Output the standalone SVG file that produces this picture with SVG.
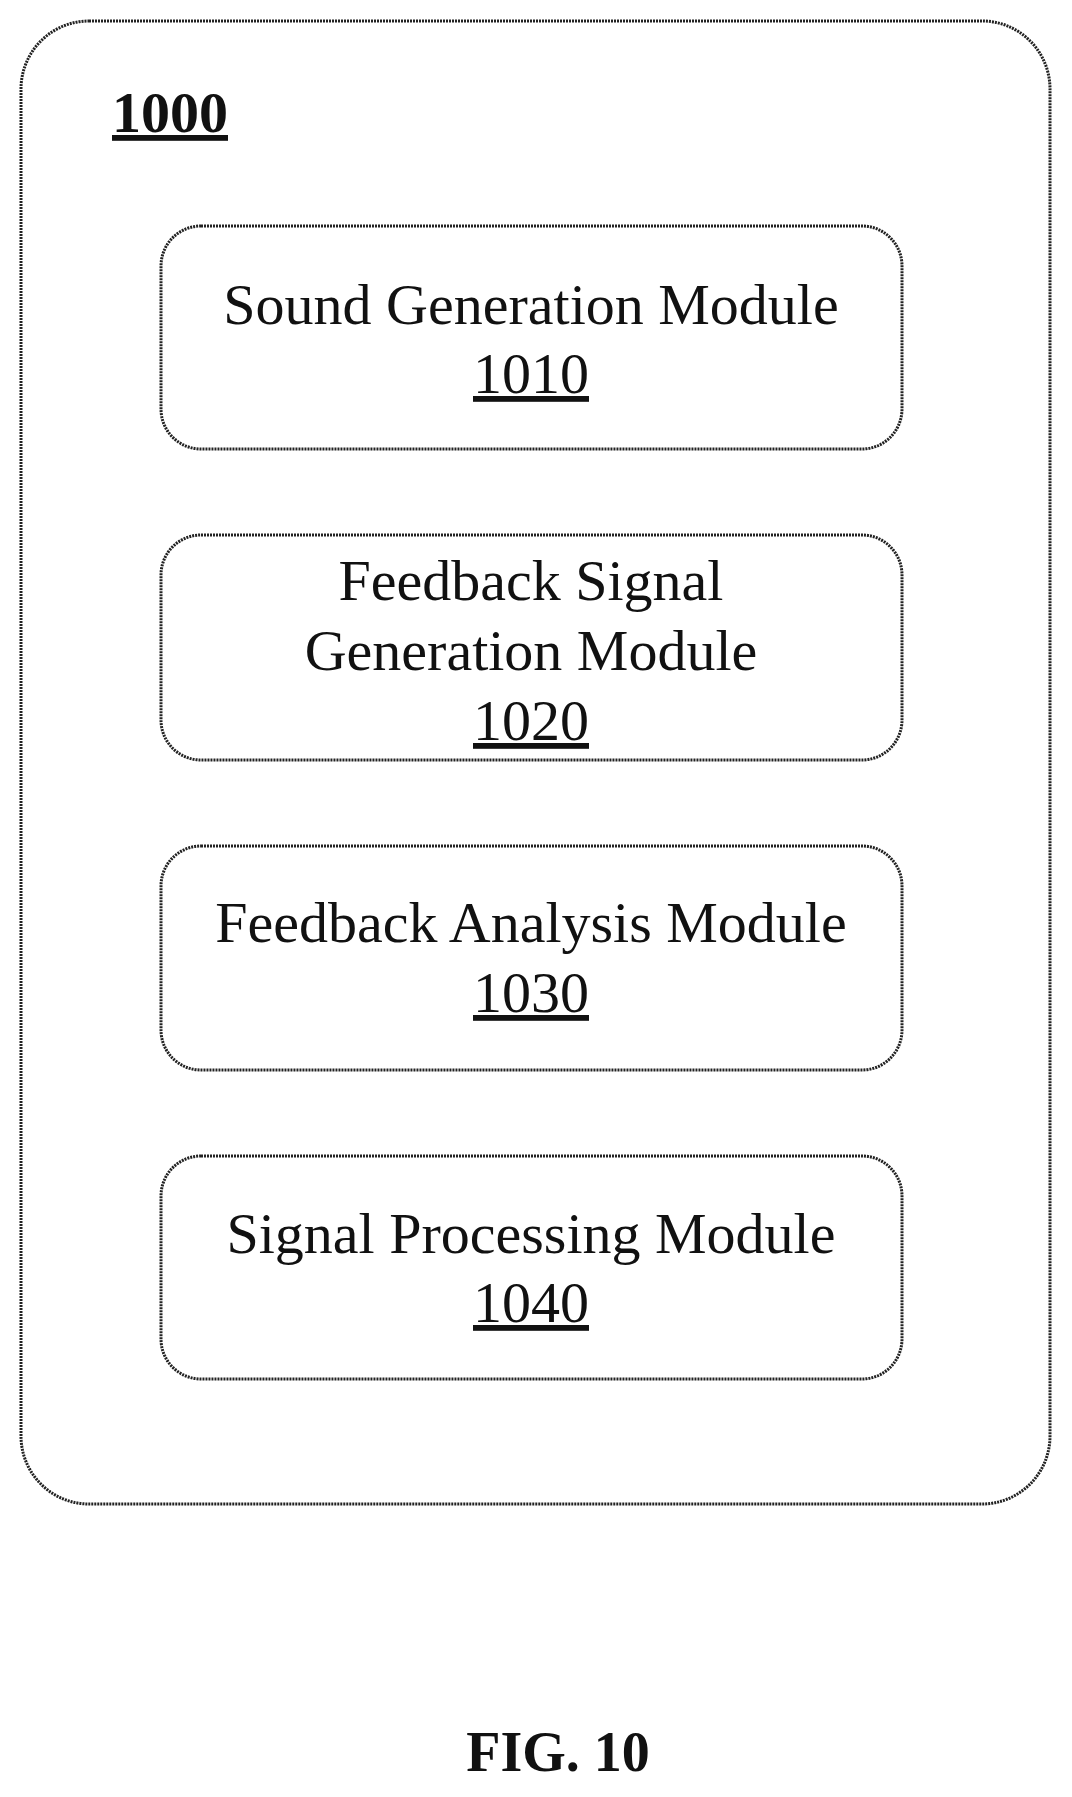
<svg xmlns="http://www.w3.org/2000/svg" width="1072" height="1797" viewBox="0 0 1072 1797">
<style>
.box{fill:#fff;stroke:#222;stroke-width:3;stroke-dasharray:2 1}
.t{font-family:"Liberation Serif",serif;font-size:58px;text-anchor:middle;fill:#111}
.u{text-decoration:underline}
.b{font-weight:bold}
</style>
<rect width="1072" height="1797" fill="#fff"/>
<g id="n1000">
<rect class="box" x="21" y="21" width="1029" height="1483" rx="68"/>
<text class="t b u" x="112" y="132" style="text-anchor:start;font-size:58px">1000</text>
</g>
<g id="n1010">
<rect class="box" x="161" y="226" width="741" height="223" rx="40"/>
<text class="t" x="531" y="324">Sound Generation Module</text>
<text class="t u" x="531" y="393">1010</text>
</g>
<g id="n1020">
<rect class="box" x="161" y="535" width="741" height="225" rx="40"/>
<text class="t" x="531" y="600">Feedback Signal</text>
<text class="t" x="531" y="670">Generation Module</text>
<text class="t u" x="531" y="740">1020</text>
</g>
<g id="n1030">
<rect class="box" x="161" y="846" width="741" height="224" rx="40"/>
<text class="t" x="531" y="942">Feedback Analysis Module</text>
<text class="t u" x="531" y="1012">1030</text>
</g>
<g id="n1040">
<rect class="box" x="161" y="1156" width="741" height="223" rx="40"/>
<text class="t" x="531" y="1253">Signal Processing Module</text>
<text class="t u" x="531" y="1322">1040</text>
</g>
<g id="connectors"></g>
<text class="t b" x="558" y="1771" style="font-size:56px">FIG. 10</text>
</svg>
